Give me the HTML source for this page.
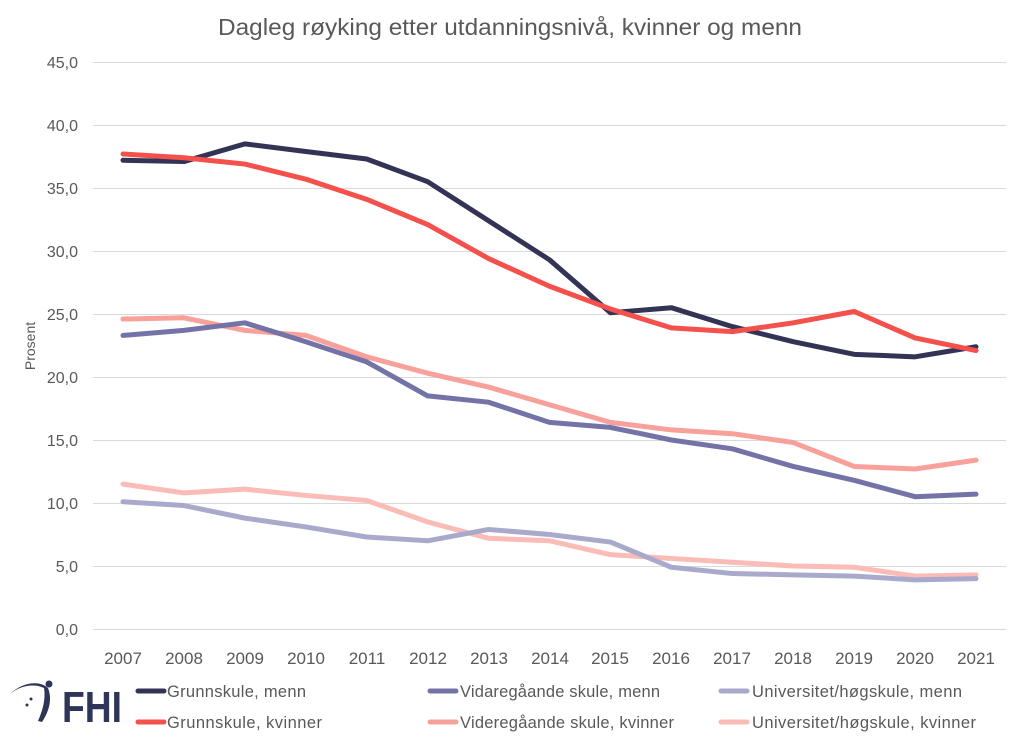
<!DOCTYPE html>
<html><head><meta charset="utf-8"><style>
body{margin:0;background:#fff;}
svg text{font-family:"Liberation Sans",sans-serif;}
</style></head><body>
<svg width="1019" height="745" viewBox="0 0 1019 745" xmlns="http://www.w3.org/2000/svg">
<rect width="1019" height="745" fill="#fff"/>
<text x="218" y="35" textLength="584" lengthAdjust="spacingAndGlyphs" font-size="23" fill="#595959">Dagleg røyking etter utdanningsnivå, kvinner og menn</text>
<g stroke="#d9d9d9" stroke-width="1">
<line x1="93" x2="1006" y1="629.5" y2="629.5"/>
<line x1="93" x2="1006" y1="566.5" y2="566.5"/>
<line x1="93" x2="1006" y1="503.5" y2="503.5"/>
<line x1="93" x2="1006" y1="440.5" y2="440.5"/>
<line x1="93" x2="1006" y1="377.5" y2="377.5"/>
<line x1="93" x2="1006" y1="314.5" y2="314.5"/>
<line x1="93" x2="1006" y1="251.5" y2="251.5"/>
<line x1="93" x2="1006" y1="188.5" y2="188.5"/>
<line x1="93" x2="1006" y1="125.5" y2="125.5"/>
<line x1="93" x2="1006" y1="62.5" y2="62.5"/>
</g>
<g font-size="16" fill="#595959" text-anchor="end">
<text x="78" y="635">0,0</text><text x="78" y="572">5,0</text><text x="78" y="509">10,0</text>
<text x="78" y="446">15,0</text><text x="78" y="383">20,0</text><text x="78" y="320">25,0</text>
<text x="78" y="257">30,0</text><text x="78" y="194">35,0</text><text x="78" y="131">40,0</text><text x="78" y="68">45,0</text>
</g>
<text transform="translate(35,346) rotate(-90)" text-anchor="middle" font-size="14" fill="#595959">Prosent</text>
<g font-size="17" fill="#595959" text-anchor="middle">
<text x="123" y="664">2007</text><text x="184" y="664">2008</text><text x="245" y="664">2009</text>
<text x="306" y="664">2010</text><text x="367" y="664">2011</text><text x="428" y="664">2012</text>
<text x="489" y="664">2013</text><text x="550" y="664">2014</text><text x="610" y="664">2015</text>
<text x="671" y="664">2016</text><text x="732" y="664">2017</text><text x="793" y="664">2018</text>
<text x="854" y="664">2019</text><text x="915" y="664">2020</text><text x="976" y="664">2021</text>
</g>
<g transform="translate(123,629) scale(60.93,-12.6)" fill="none" stroke-width="5" stroke-linejoin="round" stroke-linecap="round">
<polyline vector-effect="non-scaling-stroke" stroke="#fbbcb8" points="0,11.5 1,10.8 2,11.1 3,10.6 4,10.2 5,8.5 6,7.2 7,7.0 8,5.9 9,5.6 10,5.3 11,5.0 12,4.9 13,4.2 14,4.3"/>
<polyline vector-effect="non-scaling-stroke" stroke="#a9a9cc" points="0,10.1 1,9.8 2,8.8 3,8.1 4,7.3 5,7.0 6,7.9 7,7.5 8,6.9 9,4.9 10,4.4 11,4.3 12,4.2 13,3.9 14,4.0"/>
<polyline vector-effect="non-scaling-stroke" stroke="#f8a09a" points="0,24.6 1,24.7 2,23.7 3,23.3 4,21.6 5,20.3 6,19.2 7,17.8 8,16.4 9,15.8 10,15.5 11,14.8 12,12.9 13,12.7 14,13.4"/>
<polyline vector-effect="non-scaling-stroke" stroke="#7373a8" points="0,23.3 1,23.7 2,24.3 3,22.8 4,21.2 5,18.5 6,18.0 7,16.4 8,16.0 9,15.0 10,14.3 11,12.9 12,11.8 13,10.5 14,10.7"/>
<polyline vector-effect="non-scaling-stroke" stroke="#333355" points="0,37.2 1,37.1 2,38.5 3,37.9 4,37.3 5,35.5 6,32.4 7,29.3 8,25.1 9,25.5 10,24.0 11,22.8 12,21.8 13,21.6 14,22.4"/>
<polyline vector-effect="non-scaling-stroke" stroke="#f4504c" points="0,37.7 1,37.4 2,36.9 3,35.7 4,34.1 5,32.1 6,29.4 7,27.2 8,25.4 9,23.9 10,23.6 11,24.3 12,25.2 13,23.1 14,22.1"/>
</g>
<g stroke-width="5" stroke-linecap="round">
<line x1="138" x2="164" y1="691" y2="691" stroke="#333355"/>
<line x1="138" x2="164" y1="722" y2="722" stroke="#f4504c"/>
<line x1="430" x2="456" y1="691" y2="691" stroke="#7373a8"/>
<line x1="430" x2="456" y1="722" y2="722" stroke="#f8a09a"/>
<line x1="721" x2="747" y1="691" y2="691" stroke="#a9a9cc"/>
<line x1="721" x2="747" y1="722" y2="722" stroke="#fbbcb8"/>
</g>
<g font-size="16.5" fill="#595959" lengthAdjust="spacingAndGlyphs">
<text x="167" y="697" textLength="139">Grunnskule, menn</text>
<text x="167" y="728" textLength="155">Grunnskule, kvinner</text>
<text x="460" y="697" textLength="200">Vidaregåande skule, menn</text>
<text x="460" y="728" textLength="214">Videregåande skule, kvinner</text>
<text x="752" y="697" textLength="210">Universitet/høgskule, menn</text>
<text x="752" y="728" textLength="224">Universitet/høgskule, kvinner</text>
</g>
<g fill="#2e3558">
<path d="M10,694 C22,684 36,684 44,688 C46,700 42,712 38,721 L42,722 C50,710 52,698 48,688 C40,680 22,682 10,694 Z"/>
<circle cx="49" cy="684" r="3.5"/>
<circle cx="40" cy="692" r="3" fill="#fff"/>
<circle cx="27" cy="705" r="1.5"/>
<circle cx="31" cy="699" r="1.5"/>
<text x="62" y="722" font-size="44" font-weight="bold" textLength="60" lengthAdjust="spacingAndGlyphs">FHI</text>
</g>
</svg>
</body></html>
